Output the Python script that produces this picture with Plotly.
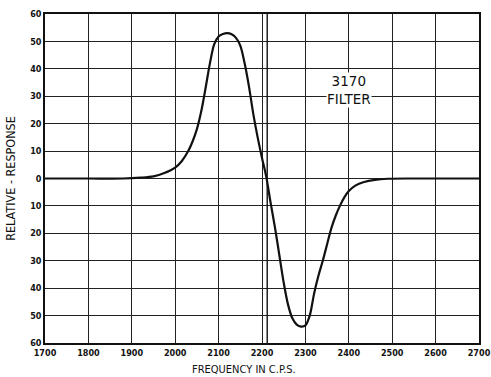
import plotly.graph_objects as go

# Measured response of the 3170 filter
frequency = [1700, 1800, 1880, 1920, 1950, 1975, 2000, 2015, 2030, 2040, 2050, 2060,
             2070, 2080, 2090, 2100, 2110, 2120, 2130, 2140, 2150, 2160, 2170, 2180,
             2190, 2200, 2210, 2220, 2230, 2240, 2250, 2260, 2270, 2280, 2290, 2300,
             2310, 2320, 2330, 2340, 2350, 2360, 2370, 2380, 2390, 2400, 2415, 2435,
             2460, 2490, 2550, 2700]
response = [0, 0, 0, 0.3, 0.8, 2, 4, 6.3, 10, 13.5, 18, 24.5,
            33, 42, 49, 51.8, 52.7, 53, 52.6, 51.3, 48.5, 42, 33.5, 23.5,
            15, 7.5, 0.5, -9, -18, -28, -38, -46, -51, -53.3, -54, -53.6,
            -50, -42, -35.5, -30, -24, -18, -13.5, -9.8, -6.8, -4.6, -2.6, -1.3,
            -0.5, -0.1, 0, 0]

x_ticks = [1700, 1800, 1900, 2000, 2100, 2200, 2300, 2400, 2500, 2600, 2700]
y_ticks = [-60, -50, -40, -30, -20, -10, 0, 10, 20, 30, 40, 50, 60]
y_tick_text = [str(abs(v)) for v in y_ticks]
marker_freq = 2212

ink = "#111111"
font_family = "DejaVu Sans Condensed"

fig = go.Figure()
fig.add_trace(go.Scatter(
    x=frequency, y=response, mode="lines",
    line=dict(color=ink, width=2.2, shape="spline", smoothing=0.9),
    hoverinfo="skip", showlegend=False,
))

# Vertical reference line just right of 2200 c.p.s.
fig.add_shape(type="line", xref="x", yref="paper",
              x0=marker_freq, x1=marker_freq, y0=0, y1=1,
              line=dict(color=ink, width=1.4))

fig.add_annotation(x=2400, y=32.3, xref="x", yref="y",
                   text="3170<br>FILTER", showarrow=False,
                   font=dict(family="DejaVu Sans", size=13.5, color=ink),
                   bgcolor="white", align="center", borderpad=0)

fig.add_annotation(x=0.458, y=0, xref="paper", yref="paper",
                   yshift=-26, yanchor="middle", xanchor="center",
                   text="FREQUENCY IN C.P.S.", showarrow=False,
                   font=dict(family=font_family, size=11, color=ink))

axis_common = dict(
    showline=True, linecolor=ink, linewidth=1.5, mirror=True,
    showgrid=True, gridcolor="#222222", gridwidth=1.2,
    zeroline=False, ticks="", automargin=False,
    tickfont=dict(family=font_family, size=9, color=ink, weight="bold"),
)

fig.update_xaxes(range=[1700, 2700], tickvals=x_ticks,
                 ticklabeloverflow="allow", **axis_common)
fig.update_yaxes(range=[-60, 60], tickvals=y_ticks, ticktext=y_tick_text,
                 **axis_common,
                 title=dict(text="RELATIVE - RESPONSE", standoff=12,
                            font=dict(family=font_family, size=12.5, color=ink)))

fig.update_layout(
    width=491, height=377,
    margin=dict(l=45, r=12, t=14, b=34),
    paper_bgcolor="white", plot_bgcolor="white",
)

fig.write_html("out.html")
